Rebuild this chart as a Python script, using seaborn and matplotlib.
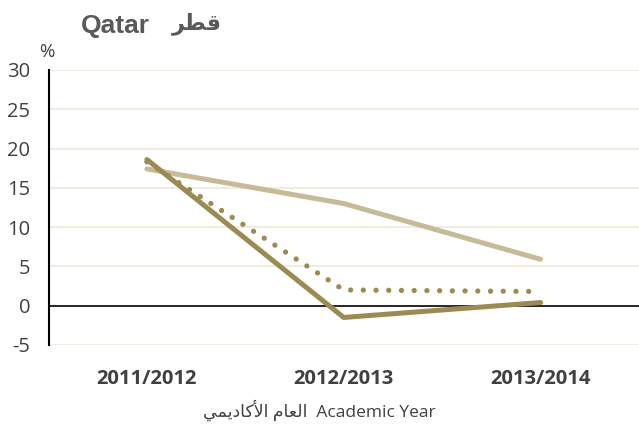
import matplotlib
matplotlib.use("Agg")
import matplotlib.pyplot as plt
import seaborn as sns
import pandas as pd

years = ["2011/2012", "2012/2013", "2013/2014"]
series_light = [17.4, 13.0, 5.9]
series_solid = [18.6, -1.5, 0.4]
series_dotted = [18.3, 2.0, 1.8]
y_ticks = [-5, 0, 5, 10, 15, 20, 25, 30]

sns.set_theme(style="white")
plt.rcParams["font.family"] = ["Open Sans", "DejaVu Sans"]

fig = plt.figure(figsize=(6.39, 4.28), dpi=100)
ax = fig.add_axes([0.0759, 0.194, 0.9241, 0.6426])

dark = "#9B8A52"
light = "#C6BA97"

df_light = pd.DataFrame({"year": years, "value": series_light})
df_solid = pd.DataFrame({"year": years, "value": series_solid})
df_dot = pd.DataFrame({"year": years, "value": series_dotted})

sns.lineplot(data=df_light, x="year", y="value", ax=ax, color=light,
             linewidth=3.6, solid_capstyle="round", sort=False)
sns.lineplot(data=df_dot, x="year", y="value", ax=ax, color=dark,
             linewidth=3.8, linestyle=(0, (0.01, 2.4)),
             dash_capstyle="round", sort=False)
sns.lineplot(data=df_solid, x="year", y="value", ax=ax, color=dark,
             linewidth=3.6, solid_capstyle="round", sort=False)

ax.set_xlim(-0.5, 2.5)
ax.set_ylim(-5, 30)
ax.set_yticks(y_ticks)
ax.set_yticklabels([str(v) for v in y_ticks], fontsize=14.5, color="#404040")
ax.set_xticks(range(len(years)))
ax.set_xticklabels(years, fontsize=14.5, fontweight="bold", color="#404040")
ax.tick_params(axis="both", length=0)
ax.tick_params(axis="x", pad=17)
ax.tick_params(axis="y", pad=13)

for v in y_ticks:
    if v != 0:
        ax.axhline(v, color="#EFEADF", linewidth=1.3, zorder=0)
ax.axhline(0, color="black", linewidth=1.2, zorder=1)

for side in ["top", "right", "bottom"]:
    ax.spines[side].set_visible(False)
ax.spines["left"].set_color("black")
ax.spines["left"].set_linewidth(1.5)

ax.set_ylabel("")
ax.set_xlabel("")
fig.text(0.5, 0.042,
         "\ufef2\ufee4\ufef3\ufea9\ufe8e\ufedb\ufef7\ufe8d \ufee1\ufe8e\ufecc\ufedf\ufe8d  Academic Year",
         fontsize=12.5, color="#404040", ha="center", va="center",
         family=["Open Sans", "DejaVu Sans"])

fig.text(0.074, 0.878, "%", fontsize=13.5, color="#404040", ha="center", va="center")
fig.text(0.126, 0.94, "Qatar", fontsize=19, fontweight="bold",
         color="#595959", ha="left", va="center",
         family=["Liberation Sans", "DejaVu Sans"])
fig.text(0.269, 0.945, "\ufeae\ufec4\ufed7", fontsize=16, fontweight="bold",
         color="#595959", ha="left", va="center",
         family=["DejaVu Sans"])

fig.savefig("out.png", dpi=100)
